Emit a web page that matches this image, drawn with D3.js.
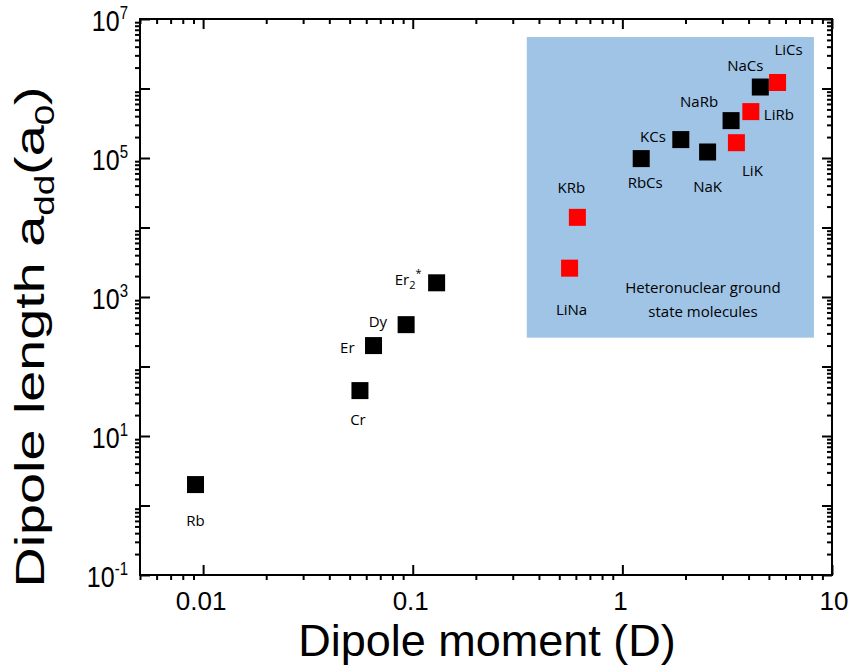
<!DOCTYPE html>
<html>
<head>
<meta charset="utf-8">
<script src="https://cdn.jsdelivr.net/npm/d3@7.9.0/dist/d3.min.js"></script>
<style>
  body { margin: 0; background: #fff; }
  text { fill: #000; }
</style>
</head>
<body>
<div id="chart"></div>
<script>
// magnetic atoms: dipole moment (D) vs dipole length (a0)
const atomNames = ["Rb", "Cr", "Er", "Dy", "Er2"];
const atomMoment = [0.0092, 0.056, 0.065, 0.093, 0.13];
const atomLength = [2.0, 45, 200, 400, 1600];

// heteronuclear ground state molecules
const molNames = ["LiNa", "KRb", "RbCs", "KCs", "NaK", "NaRb", "LiK", "LiRb", "NaCs", "LiCs"];
const molMoment = [0.56, 0.61, 1.23, 1.9, 2.55, 3.3, 3.5, 4.1, 4.55, 5.5];
const molLength = [2600, 14000, 98000, 184000, 122000, 345000, 166000, 465000, 1.05e6, 1.22e6];
const molGroup = ["B", "B", "A", "A", "A", "A", "B", "B", "A", "B"];

// axis ticks
const xMajor = [0.01, 0.1, 1, 10];
const xLabels = ["0.01", "0.1", "1", "10"];
const yMajorExp = [-1, 0, 1, 2, 3, 4, 5, 6, 7];
const yLabelExp = [-1, 1, 3, 5, 7];

// label placement (px offsets from the marker centre)
const atomLabelPos = [
  { dx: 0, dy: 41, anchor: "middle" },
  { dx: -2, dy: 34, anchor: "middle" },
  { dx: -19, dy: 7, anchor: "end" },
  { dx: -19, dy: 2, anchor: "end" },
  { dx: -15, dy: 2, anchor: "end" }
];
const molLabelPos = [
  { dx: 2, dy: 47, anchor: "middle" },
  { dx: -6, dy: -24, anchor: "middle" },
  { dx: 4, dy: 29, anchor: "middle" },
  { dx: -15, dy: 2, anchor: "end" },
  { dx: 0, dy: 40, anchor: "middle" },
  { dx: -32, dy: -14, anchor: "middle" },
  { dx: 16, dy: 33, anchor: "middle" },
  { dx: 13, dy: 8, anchor: "start" },
  { dx: -15, dy: -16, anchor: "middle" },
  { dx: 11, dy: -27, anchor: "middle" }
];

const W = 850, H = 672;
const margin = { top: 19, right: 18, bottom: 97, left: 140 };
const width = W - margin.left - margin.right;
const height = H - margin.top - margin.bottom;

const svg = d3.select("#chart").append("svg")
  .attr("width", W)
  .attr("height", H);

const g = svg.append("g").attr("transform", `translate(${margin.left},${margin.top})`);

const x = d3.scaleLog().domain([0.005, 10]).range([0, width]);
const y = d3.scaleLog().domain([0.1, 1e7]).range([height, 0]);

// minor ticks: 2..9 of each decade
const xMinor = [];
[0.001, 0.01, 0.1, 1].forEach(d => { for (let k = 2; k <= 9; k++) { const v = d * k; if (v >= 0.005 && v < 10) xMinor.push(v); } });
const yMinor = [];
yMajorExp.slice(0, -1).forEach(e => { for (let k = 2; k <= 9; k++) yMinor.push(k * Math.pow(10, e)); });
const yMajor = yMajorExp.map(e => Math.pow(10, e));

// inset box
const box = { x0: 0.35, x1: 8.2, y0: 260, y1: 5.5e6 };
g.append("rect")
  .attr("x", x(box.x0))
  .attr("y", y(box.y1))
  .attr("width", x(box.x1) - x(box.x0))
  .attr("height", y(box.y0) - y(box.y1))
  .attr("fill", "#9fc4e6");

// axes
function styleAxis(sel) {
  sel.select(".domain").remove();
  sel.selectAll("text").remove();
  sel.selectAll("line").attr("stroke", "#000").attr("stroke-width", 2);
}
g.append("g").attr("transform", `translate(0,${height})`)
  .call(d3.axisBottom(x).tickValues(xMajor).tickSize(-10)).call(styleAxis);
g.append("g").attr("transform", `translate(0,${height})`)
  .call(d3.axisBottom(x).tickValues(xMinor).tickSize(5)).call(styleAxis);
g.append("g")
  .call(d3.axisTop(x).tickValues(xMajor).tickSize(-10)).call(styleAxis);
g.append("g")
  .call(d3.axisTop(x).tickValues(xMinor).tickSize(-5)).call(styleAxis);
g.append("g")
  .call(d3.axisLeft(y).tickValues(yMajor).tickSize(-10)).call(styleAxis);
g.append("g")
  .call(d3.axisLeft(y).tickValues(yMinor).tickSize(5)).call(styleAxis);
g.append("g").attr("transform", `translate(${width},0)`)
  .call(d3.axisRight(y).tickValues(yMajor).tickSize(-10)).call(styleAxis);
g.append("g").attr("transform", `translate(${width},0)`)
  .call(d3.axisRight(y).tickValues(yMinor).tickSize(-5)).call(styleAxis);

g.append("rect")
  .attr("width", width).attr("height", height)
  .attr("fill", "none").attr("stroke", "#000").attr("stroke-width", 2);

// tick labels
g.selectAll(".xlab").data(xMajor).join("text")
  .attr("x", (d, i) => x(d) + (i === xMajor.length - 1 ? 2 : -2))
  .attr("y", height + 35)
  .attr("text-anchor", "middle")
  .style("font-family", "Liberation Sans, Arial, sans-serif")
  .style("font-size", "26px")
  .text((d, i) => xLabels[i]);

const ylab = g.selectAll(".ylab").data(yLabelExp).join("text")
  .attr("transform", d => `translate(-12,${y(Math.pow(10, d)) + 12}) scale(1,1.2)`)
  .attr("text-anchor", "end")
  .style("font-family", "Liberation Sans, Arial, sans-serif")
  .style("font-size", "25px");
ylab.append("tspan").text("10");
ylab.append("tspan").attr("dy", -10).style("font-size", "15px").text(d => d);

// markers
const sq = 17;
g.selectAll(".atom").data(atomNames).join("rect")
  .attr("x", (d, i) => x(atomMoment[i]) - sq / 2)
  .attr("y", (d, i) => y(atomLength[i]) - sq / 2)
  .attr("width", sq).attr("height", sq)
  .attr("fill", "#000");

g.selectAll(".mol").data(molNames).join("rect")
  .attr("x", (d, i) => x(molMoment[i]) - sq / 2)
  .attr("y", (d, i) => y(molLength[i]) - sq / 2)
  .attr("width", sq).attr("height", sq)
  .attr("fill", (d, i) => molGroup[i] === "B" ? "#ff0000" : "#000");

// marker labels
const labFont = "Open Sans, Noto Sans, sans-serif";
const alab = g.selectAll(".alab").data(atomNames).join("text")
  .attr("x", (d, i) => x(atomMoment[i]) + atomLabelPos[i].dx)
  .attr("y", (d, i) => y(atomLength[i]) + atomLabelPos[i].dy)
  .attr("text-anchor", (d, i) => atomLabelPos[i].anchor)
  .style("font-family", labFont)
  .style("font-size", "15px");
alab.each(function (d) {
  const t = d3.select(this);
  if (d === "Er2") {
    t.append("tspan").text("Er");
    t.append("tspan").attr("dy", 4).style("font-size", "11px").text("2");
    t.append("tspan").attr("dy", -12).style("font-size", "11px").text("*");
  } else {
    t.text(d);
  }
});

g.selectAll(".mlab").data(molNames).join("text")
  .attr("x", (d, i) => x(molMoment[i]) + molLabelPos[i].dx)
  .attr("y", (d, i) => y(molLength[i]) + molLabelPos[i].dy)
  .attr("text-anchor", (d, i) => molLabelPos[i].anchor)
  .style("font-family", labFont)
  .style("font-size", "15px")
  .text(d => d);

// inset caption
const cap = g.append("text")
  .attr("text-anchor", "middle")
  .style("font-family", labFont)
  .style("font-size", "15px");
cap.append("tspan").attr("x", 703 - margin.left).attr("y", 293 - margin.top).text("Heteronuclear ground");
cap.append("tspan").attr("x", 703 - margin.left).attr("y", 317 - margin.top).text("state molecules");

// axis titles
svg.append("text")
  .attr("x", 487).attr("y", 656)
  .attr("text-anchor", "middle")
  .style("font-family", "Liberation Sans, Arial, sans-serif")
  .style("font-size", "45px")
  .text("Dipole moment (D)");

const yt = svg.append("text")
  .attr("transform", "translate(44,337) rotate(-90) scale(1.36,1)")
  .attr("text-anchor", "middle")
  .style("font-family", "Liberation Sans, Arial, sans-serif")
  .style("font-size", "41px");
yt.append("tspan").text("Dipole length a");
yt.append("tspan").attr("dy", 10).style("font-size", "27px").text("dd");
yt.append("tspan").attr("dy", -10).text("(a");
yt.append("tspan").attr("dy", 10).style("font-size", "27px").text("0");
yt.append("tspan").attr("dy", -10).text(")");
</script>
</body>
</html>
